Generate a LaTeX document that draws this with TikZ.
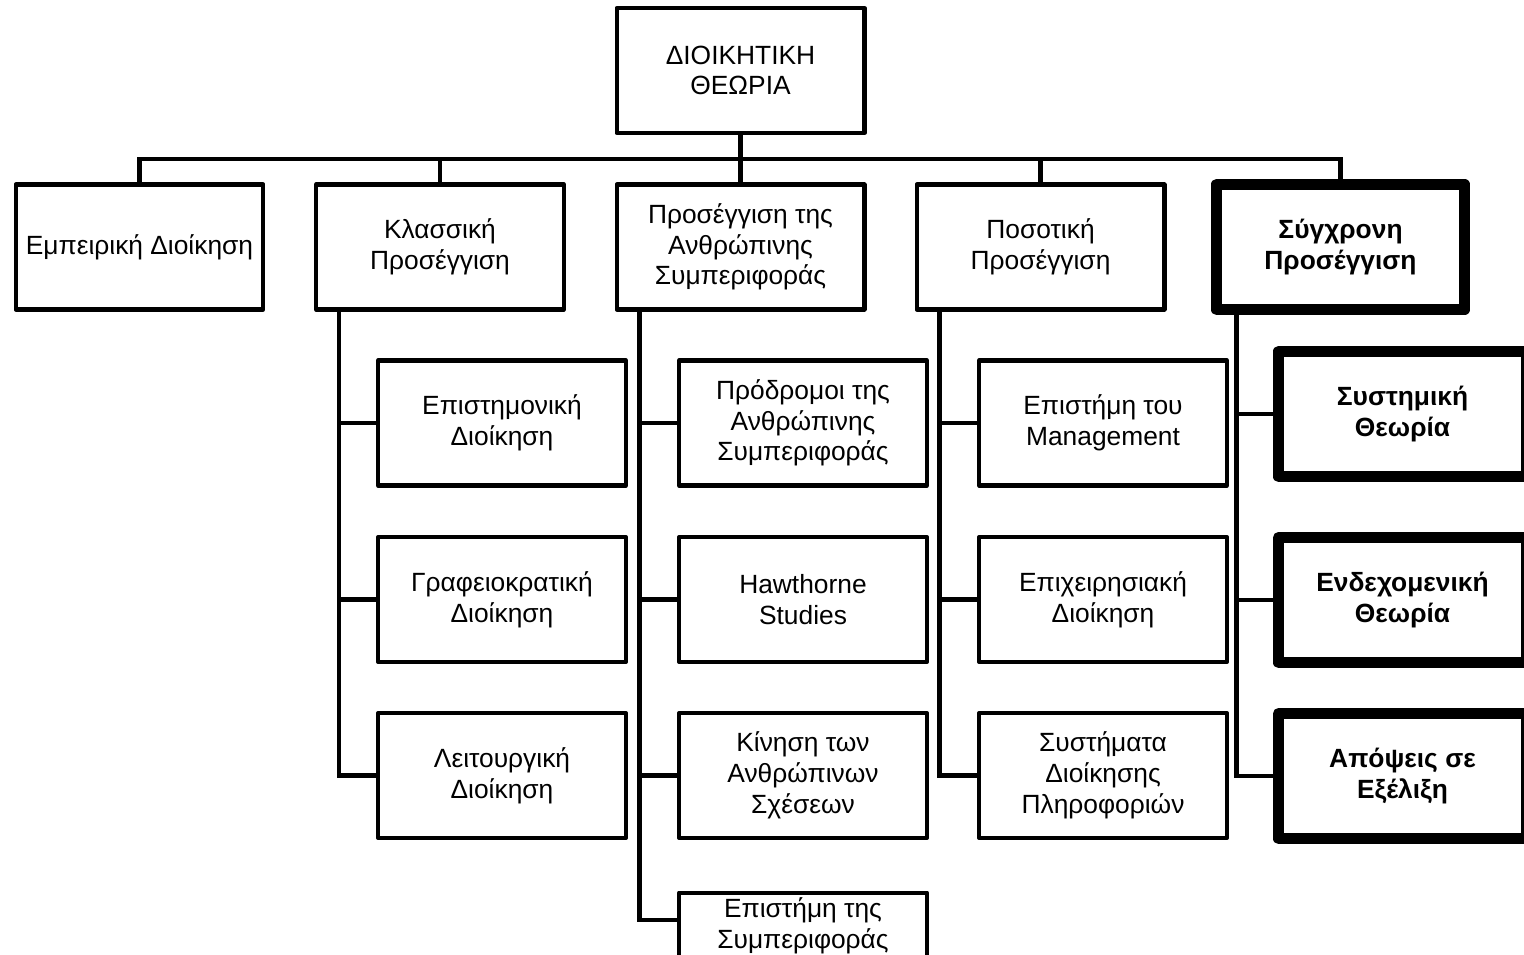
\documentclass[tikz,border=0pt]{standalone}
\usepackage{fontspec}
\setmainfont{Liberation Sans}
\usetikzlibrary{positioning}

\begin{document}
\begin{tikzpicture}[x=0.02cm, y=-0.02cm,
  box/.style={draw, line width=2.3pt, line join=round, minimum width=4.96cm, minimum height=2.5cm, align=center, font=\fontsize{15}{17.5}\selectfont},
  boldbox/.style={box, line width=6.5pt, font=\fontsize{15}{17.5}\selectfont\bfseries},
  wire/.style={line width=2.7pt}]
\useasboundingbox (0,0) rectangle (1524,955);
\clip (0,0) rectangle (1524,955);

% top
\node[box] (theory) at (740.5,70.5) {ΔΙΟΙΚΗΤΙΚΗ\\ΘΕΩΡΙΑ};

% first row
\node[box] (empir) at (139.5,247) {Εμπειρική Διοίκηση};
\node[box] (klass) at (440,247) {Κλασσική\\Προσέγγιση};
\node[box] (anthr) at (740.5,247) {Προσέγγιση της\\Ανθρώπινης\\Συμπεριφοράς};
\node[box] (posot) at (1040.5,247) {Ποσοτική\\Προσέγγιση};
\node[boldbox] (sygch) at (1340.5,247) {Σύγχρονη\\Προσέγγιση};

% klassiki
\node[box] (klassA) at (502,423) {Επιστημονική\\Διοίκηση};
\node[box] (klassB) at (502,599.5) {Γραφειοκρατική\\Διοίκηση};
\node[box] (klassC) at (502,775.5) {Λειτουργική\\Διοίκηση};

% anthropini symperifora
\node[box] (anthrA) at (803,423) {Πρόδρομοι της\\Ανθρώπινης\\Συμπεριφοράς};
\node[box] (anthrB) at (803,599.5) {Hawthorne\\Studies};
\node[box] (anthrC) at (803,775.5) {Κίνηση των\\Ανθρώπινων\\Σχέσεων};
\node[box, anchor=north, minimum height=0pt, inner ysep=3pt, text depth=2cm] (anthrD) at (803,890.5) {Επιστήμη της\\Συμπεριφοράς};

% posotiki
\node[box] (posotA) at (1103,423) {Επιστήμη του\\Management};
\node[box] (posotB) at (1103,599.5) {Επιχειρησιακή\\Διοίκηση};
\node[box] (posotC) at (1103,775.5) {Συστήματα\\Διοίκησης\\Πληροφοριών};

% sygchroni
\node[boldbox] (sygchA) at (1402.5,414) {Συστημική\\Θεωρία};
\node[boldbox] (sygchB) at (1402.5,600) {Ενδεχομενική\\Θεωρία};
\node[boldbox] (sygchC) at (1402.5,776) {Απόψεις σε\\Εξέλιξη};

% bus
\coordinate (bus) at (740.5,159);
\draw[wire] (empir.north) |- (bus) -| (sygch.north);
\draw[wire] (klass.north) -- (klass.north |- bus);
\draw[wire] (posot.north) -- (posot.north |- bus);
\draw[wire] (theory.south) -- (anthr.north);

% spines
\draw[wire] ([xshift=0.5cm]klass.south west) |- (klassA.west);
\draw[wire] ([xshift=0.5cm]klass.south west) |- (klassB.west);
\draw[wire] ([xshift=0.5cm]klass.south west) |- (klassC.west);
\draw[wire] ([xshift=0.5cm]anthr.south west) |- (anthrA.west);
\draw[wire] ([xshift=0.5cm]anthr.south west) |- (anthrB.west);
\draw[wire] ([xshift=0.5cm]anthr.south west) |- (anthrC.west);
\draw[wire] ([xshift=0.5cm]anthr.south west) |- ([yshift=-0.59cm]anthrD.north west);
\draw[wire] ([xshift=0.5cm]posot.south west) |- (posotA.west);
\draw[wire] ([xshift=0.5cm]posot.south west) |- (posotB.west);
\draw[wire] ([xshift=0.5cm]posot.south west) |- (posotC.west);
\draw[wire] ([xshift=0.52cm]sygch.south west) |- (sygchA.west);
\draw[wire] ([xshift=0.52cm]sygch.south west) |- (sygchB.west);
\draw[wire] ([xshift=0.52cm]sygch.south west) |- (sygchC.west);
\end{tikzpicture}
\end{document}
